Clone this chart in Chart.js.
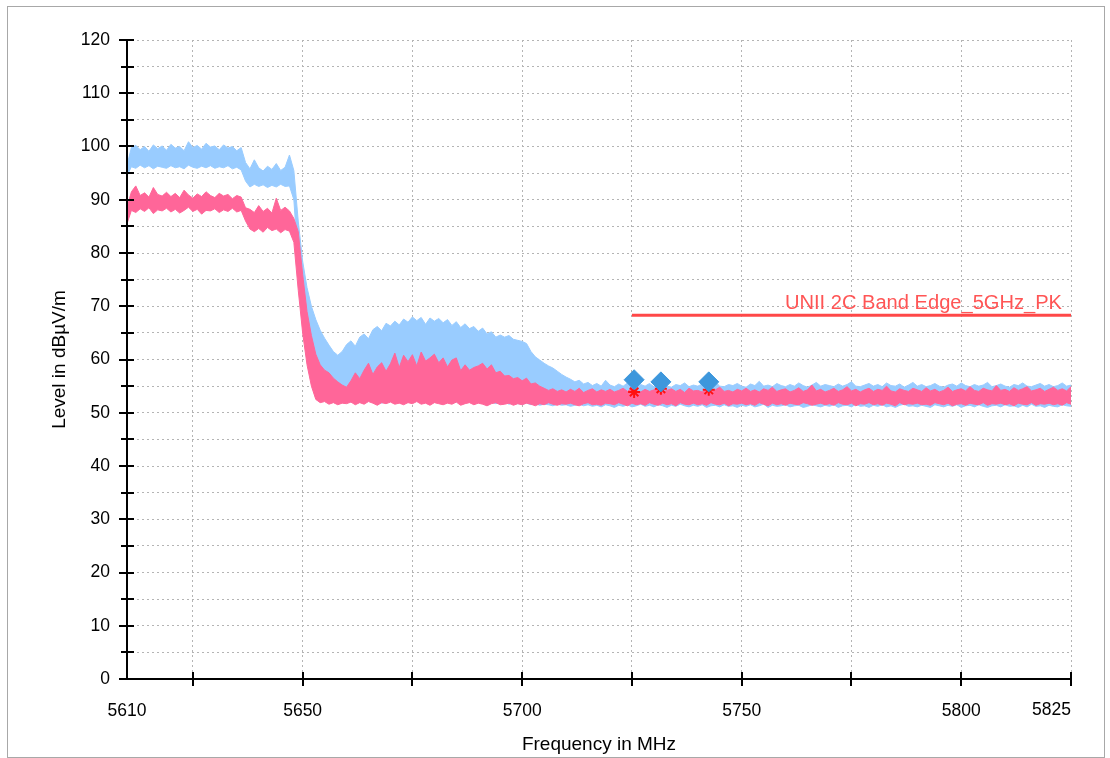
<!DOCTYPE html>
<html>
<head>
<meta charset="utf-8">
<script src="https://cdn.jsdelivr.net/npm/chart.js@4.4.1/dist/chart.umd.min.js"></script>
<style>
  html, body { margin: 0; padding: 0; background: #fff; }
  #wrap { position: relative; width: 1110px; height: 758px; }
  #frame { position: absolute; left: 7px; top: 6px; width: 1096px; height: 750px; border: 1px solid #a8a8a8; pointer-events: none; }
</style>
</head>
<body>
<div id="wrap">
  <canvas id="chart" width="1110" height="758"></canvas>
  <div id="frame"></div>
</div>
<script>
// ---------- DATA ----------
const freq = [
  5610, 5611, 5612, 5613, 5614, 5615, 5616, 5617, 5618, 5619,
  5620, 5621, 5622, 5623, 5624, 5625, 5626, 5627, 5628, 5629,
  5630, 5631, 5632, 5633, 5634, 5635, 5636, 5637, 5638, 5639,
  5640, 5641, 5642, 5643, 5644, 5645, 5646, 5647, 5648, 5649,
  5650, 5651, 5652, 5653, 5654, 5655, 5656, 5657, 5658, 5659,
  5660, 5661, 5662, 5663, 5664, 5665, 5666, 5667, 5668, 5669,
  5670, 5671, 5672, 5673, 5674, 5675, 5676, 5677, 5678, 5679,
  5680, 5681, 5682, 5683, 5684, 5685, 5686, 5687, 5688, 5689,
  5690, 5691, 5692, 5693, 5694, 5695, 5696, 5697, 5698, 5699,
  5700, 5701, 5702, 5703, 5704, 5705, 5706, 5707, 5708, 5709,
  5710, 5711, 5712, 5713, 5714, 5715, 5716, 5717, 5718, 5719,
  5720, 5721, 5722, 5723, 5724, 5725, 5726, 5727, 5728, 5729,
  5730, 5731, 5732, 5733, 5734, 5735, 5736, 5737, 5738, 5739,
  5740, 5741, 5742, 5743, 5744, 5745, 5746, 5747, 5748, 5749,
  5750, 5751, 5752, 5753, 5754, 5755, 5756, 5757, 5758, 5759,
  5760, 5761, 5762, 5763, 5764, 5765, 5766, 5767, 5768, 5769,
  5770, 5771, 5772, 5773, 5774, 5775, 5776, 5777, 5778, 5779,
  5780, 5781, 5782, 5783, 5784, 5785, 5786, 5787, 5788, 5789,
  5790, 5791, 5792, 5793, 5794, 5795, 5796, 5797, 5798, 5799,
  5800, 5801, 5802, 5803, 5804, 5805, 5806, 5807, 5808, 5809,
  5810, 5811, 5812, 5813, 5814, 5815, 5816, 5817, 5818, 5819,
  5820, 5821, 5822, 5823, 5824, 5825
];

// peak trace (light blue): upper / lower envelope per MHz
const blueHi = [
  96.5, 99.8, 100.2, 99.4, 100.0, 99.1, 100.3, 99.6, 100.1, 99.3,
  100.4, 99.7, 100.0, 99.2, 100.9, 99.8, 100.2, 99.5, 100.6, 99.9,
  100.1, 99.4, 100.3, 99.7, 100.0, 99.2, 99.8, 97.0, 95.8, 97.5,
  96.0, 95.4, 96.3, 95.7, 96.8, 95.5, 96.1, 98.4, 95.5, 86.0,
  78.5, 73.5, 70.0, 67.5, 65.5, 64.0, 62.7, 61.5, 60.8, 61.5,
  62.8, 63.5, 62.5, 64.2, 64.8, 63.9, 65.6, 66.2, 65.4, 66.8,
  66.3, 67.2, 66.5, 67.6, 67.0, 68.0, 67.3, 67.9, 66.6, 67.8,
  67.2, 67.7, 66.9, 67.5, 66.4, 67.1, 66.0, 66.7, 65.8, 66.2,
  65.3, 65.9, 64.8, 65.2, 64.2, 64.6, 64.2, 64.5, 63.8, 63.6,
  63.4, 63.0, 61.5, 60.5, 59.9, 59.3, 58.8, 58.4, 57.8, 57.2,
  56.7, 56.3, 55.8, 56.1, 55.4, 55.7, 55.1, 55.5, 55.0, 56.1,
  55.2, 54.9, 55.4, 55.0, 55.6, 55.1, 54.8, 55.3, 55.0, 55.5,
  54.9, 55.2, 55.7, 55.0, 54.8, 55.3, 55.1, 55.6, 54.9, 55.2,
  55.0, 55.4, 54.8, 55.2, 55.8, 55.0, 54.9, 55.3, 55.1, 55.5,
  55.0, 54.8, 55.4, 55.1, 55.9, 55.0, 55.2, 54.9, 55.5, 55.1,
  54.9, 55.3, 55.0, 55.6, 55.1, 54.8, 55.2, 55.7, 55.0, 55.3,
  55.1, 54.9, 55.4, 55.0, 55.3, 55.8, 55.0, 54.9, 55.2, 55.5,
  55.0, 55.3, 54.9, 55.6, 55.1, 55.0, 55.4, 54.8, 55.2, 55.7,
  55.0, 55.3, 54.9, 55.1, 55.5, 55.0, 54.8, 55.2, 55.4, 55.0,
  55.6, 55.1, 54.9, 55.3, 55.0, 55.2, 55.7, 54.9, 55.1, 55.4,
  55.0, 54.8, 55.3, 55.1, 55.6, 55.0, 54.9, 55.2, 55.5, 55.0,
  55.3, 54.9, 55.1, 55.6, 55.0, 55.2
];
const blueLo = [
  94.5, 96.2, 95.9, 96.5, 96.0, 96.4, 95.8, 96.3, 96.1, 95.9,
  96.4, 96.0, 96.2, 95.8, 96.5, 96.1, 95.9, 96.3, 96.0, 96.4,
  95.9, 96.2, 96.0, 96.4, 95.8, 96.1, 95.6, 93.5, 92.4, 92.9,
  92.5, 92.8, 92.3, 92.7, 92.4, 92.9, 92.5, 92.6, 90.0, 78.0,
  70.0, 64.0, 59.0, 56.0, 54.0, 53.0, 52.4, 52.1, 52.3, 52.0,
  52.2, 52.0, 52.3, 51.9, 52.1, 52.4, 52.0, 52.2, 51.8, 52.1,
  52.3, 52.0, 52.2, 51.9, 52.1, 52.0, 52.3, 51.8, 52.1, 52.2,
  52.0, 51.9, 52.2, 52.1, 51.8, 52.0, 52.3, 51.9, 52.1, 52.0,
  51.9, 52.1, 51.8, 52.0, 51.7, 51.9, 52.0, 51.6, 51.8, 51.7,
  51.6, 51.8, 51.5, 51.7, 51.4, 51.6, 51.5, 51.3, 51.6, 51.4,
  51.5, 51.2, 51.4, 51.6, 51.3, 51.5, 51.2, 51.4, 51.1, 51.5,
  51.3, 51.0, 51.4, 51.2, 51.5, 51.1, 51.3, 51.6, 51.2, 51.4,
  51.1, 51.5, 51.3, 51.0, 51.4, 51.2, 51.6, 51.3, 51.1, 51.4,
  51.2, 51.5, 51.0, 51.3, 51.4, 51.1, 51.5, 51.2, 51.3, 51.0,
  51.4, 51.2, 51.5, 51.1, 51.3, 51.6, 51.0, 51.4, 51.2, 51.3,
  51.5, 51.1, 51.3, 51.4, 51.0, 51.2, 51.5, 51.3, 51.1, 51.4,
  51.2, 51.5, 51.0, 51.3, 51.4, 51.1, 51.6, 51.2, 51.3, 51.0,
  51.4, 51.2, 51.5, 51.1, 51.3, 51.0, 51.4, 51.6, 51.2, 51.3,
  51.1, 51.4, 51.2, 51.0, 51.5, 51.3, 51.1, 51.4, 51.2, 51.5,
  51.0, 51.3, 51.4, 51.1, 51.5, 51.2, 51.0, 51.3, 51.4, 51.1,
  51.5, 51.2, 51.3, 51.0, 51.4, 51.1, 51.6, 51.2, 51.3, 51.0,
  51.4, 51.2, 51.1, 51.5, 51.3, 51.2
];

// average trace (pink): upper / lower envelope per MHz
const pinkHi = [
  88.5, 91.5, 92.6, 90.8, 91.3, 90.5, 92.3, 91.0, 90.7, 91.4,
  90.6, 91.2, 90.4, 91.8, 90.9, 90.3, 91.1, 90.6, 91.5, 90.8,
  90.4, 91.2, 90.7, 91.0, 90.2, 90.8, 90.5, 88.5, 88.2, 87.6,
  88.9, 87.8, 88.4, 87.5, 90.3, 88.0, 88.6, 87.9, 86.5, 84.0,
  76.0, 69.0, 64.5, 61.0, 59.0, 58.0, 57.5, 56.5, 55.8, 55.2,
  54.8, 56.0, 57.5, 56.4, 58.0, 59.3, 57.2, 58.6, 59.4, 57.8,
  59.2, 61.2, 58.5, 60.8, 59.6, 60.9, 58.8, 61.4, 59.7, 60.3,
  61.0, 59.4, 60.3, 58.6, 59.9, 60.3, 57.9, 59.0, 58.0, 58.5,
  58.8, 59.3, 58.2, 59.0, 57.5, 57.8, 56.9, 57.0, 56.4, 56.6,
  56.0, 56.5, 55.4, 55.6, 55.0, 54.6, 54.2, 54.5, 54.0, 54.3,
  53.9, 54.4, 54.0, 54.6, 53.8, 54.2, 54.5, 53.9, 54.3, 54.0,
  54.4, 53.9, 54.2, 54.6, 54.0, 54.8, 54.1, 53.9, 54.4, 54.0,
  54.3, 54.7, 53.9, 54.2, 54.5, 54.0, 54.4, 53.8, 54.6, 54.1,
  54.2, 53.9, 54.5, 54.1, 54.3, 54.8, 54.0, 54.2, 53.9, 54.4,
  54.1, 54.6, 54.0, 54.3, 53.9, 54.5, 54.2, 54.8, 54.0, 54.3,
  54.5, 53.9, 54.2, 54.7, 54.0, 54.3, 55.2, 54.1, 54.4, 53.9,
  54.2, 54.6, 54.0, 54.3, 54.9, 54.1, 54.4, 53.9, 54.3, 54.6,
  54.0, 54.4, 54.2, 55.0, 54.1, 53.9, 54.5, 54.2, 54.0, 54.6,
  54.3, 54.0, 54.7, 54.1, 54.4, 53.9, 54.2, 54.8, 54.0, 54.3,
  54.5, 54.1, 54.9, 54.2, 54.0, 54.6, 54.3, 54.1, 55.1, 54.2,
  54.4, 54.0, 54.7, 54.2, 54.5, 54.9, 54.1, 54.3, 54.6, 54.0,
  54.4, 54.8, 54.2, 54.5, 54.1, 54.9
];
const pinkLo = [
  85.5, 88.0, 87.6, 88.3, 87.8, 88.5, 87.4, 88.1, 87.9, 88.4,
  87.7, 88.2, 87.5, 88.0, 88.6, 87.8, 88.2, 87.3, 88.0, 87.9,
  88.3, 87.6, 88.1, 87.8, 88.4, 87.7, 88.0, 86.0, 84.5, 84.0,
  84.6, 83.9, 84.8, 84.2, 84.5, 83.8, 84.4, 84.1, 82.0, 73.0,
  65.0, 59.0, 55.0, 52.5, 51.9, 52.1, 51.6, 51.9, 51.5, 51.8,
  51.7, 52.0, 51.5, 51.9, 51.6, 52.1, 51.8, 51.4, 51.9, 51.7,
  52.0, 51.6, 51.8, 51.5, 51.9, 51.7, 52.1, 51.6, 51.8, 51.4,
  51.9, 51.7, 51.5, 51.8, 51.6, 52.0, 51.4, 51.7, 51.9, 51.5,
  51.8, 51.6, 51.3, 51.7, 51.9, 51.5, 51.6, 51.8, 51.4, 51.7,
  51.5, 51.8, 51.6, 51.3, 51.7, 51.5, 51.9, 51.6, 51.4, 51.7,
  51.6, 51.8, 51.5, 51.3, 51.7, 51.9, 51.5, 51.6, 51.4, 51.8,
  51.7, 51.5, 51.9, 51.6, 51.3, 51.8, 51.5, 51.7, 51.4, 51.9,
  51.6, 51.4, 51.8, 51.5, 51.7, 51.3, 51.9, 51.6, 51.5, 51.8,
  51.5, 51.7, 51.4, 51.9, 51.6, 51.5, 51.8, 51.3, 51.7, 51.6,
  51.8, 51.5, 51.7, 51.4, 51.9, 51.6, 51.3, 51.8, 51.5, 51.7,
  51.4, 51.8, 51.6, 51.5, 51.9, 51.7, 51.4, 51.6, 51.8, 51.5,
  51.7, 51.4, 51.9, 51.6, 51.5, 51.8, 51.3, 51.7, 51.6, 51.9,
  51.5, 51.7, 51.4, 51.8, 51.6, 51.3, 51.9, 51.5, 51.7, 51.6,
  51.8, 51.5, 51.6, 51.4, 51.9, 51.7, 51.5, 51.8, 51.3, 51.6,
  51.7, 51.4, 51.8, 51.6, 51.5, 51.9, 51.4, 51.7, 51.6, 51.8,
  51.5, 51.7, 51.3, 51.8, 51.6, 51.5, 51.9, 51.4, 51.7, 51.6,
  51.8, 51.5, 51.7, 51.4, 51.9, 51.6
];

// limit line
const limitName = 'UNII 2C Band Edge_5GHz_PK';
const limitFreq = [5725, 5825];
const limitLevel = [68.3, 68.3];

// final measurement markers
const markerFreq = [5725.5, 5731.6, 5742.5];
const peakMarker = [56.2, 55.8, 55.8];
const avgMarker = [53.9, 54.5, 54.3];

// axis ticks
const xGridTicks = [5610, 5625, 5650, 5675, 5700, 5725, 5750, 5775, 5800, 5825];
const xLabelTicks = [5610, 5650, 5700, 5750, 5800];
const xEndLabel = 5825;

// ---------- HELPERS ----------
const FONT = "'Liberation Sans', Arial, sans-serif";
const pts = (xs, ys) => xs.map((x, i) => ({ x: x, y: ys[i] }));

// ---------- PLUGINS ----------
const axesPlugin = {
  id: 'axesPlugin',
  afterDraw(chart) {
    const { ctx, chartArea: a, scales: { x, y } } = chart;
    ctx.save();
    ctx.strokeStyle = '#000';
    ctx.lineWidth = 2;
    ctx.beginPath();
    ctx.moveTo(a.left, a.top);
    ctx.lineTo(a.left, a.bottom);
    ctx.lineTo(a.right, a.bottom);
    ctx.stroke();

    y.ticks.forEach(t => {
      const py = Math.round(y.getPixelForValue(t.value));
      const major = t.value % 10 === 0;
      ctx.beginPath();
      ctx.moveTo(a.left - (major ? 8 : 6), py);
      ctx.lineTo(a.left + 7, py);
      ctx.stroke();
    });
    x.ticks.forEach(t => {
      if (t.value === 5610) return;
      const px = Math.round(x.getPixelForValue(t.value));
      ctx.beginPath();
      ctx.moveTo(px, a.bottom - 7);
      ctx.lineTo(px, a.bottom + 7);
      ctx.stroke();
    });

    // last x label sits flush with the axis end
    ctx.fillStyle = '#000';
    ctx.font = '17.5px ' + FONT;
    ctx.textAlign = 'right';
    ctx.textBaseline = 'top';
    ctx.fillText(String(xEndLabel), x.getPixelForValue(xEndLabel), a.bottom + 22);

    // limit name above the limit line
    const lx = x.getPixelForValue(limitFreq[1]) - 9;
    const ly = y.getPixelForValue(limitLevel[1]) - 6;
    ctx.font = '20px ' + FONT;
    ctx.textAlign = 'left';
    ctx.textBaseline = 'alphabetic';
    const w = ctx.measureText(limitName).width;
    const s = 277 / w;
    ctx.translate(lx - 277, ly);
    ctx.scale(s, 1);
    ctx.fillStyle = '#ff5555';
    ctx.fillText(limitName, 0, 0);
    ctx.restore();
  }
};

// ---------- CHART ----------
const ctx = document.getElementById('chart').getContext('2d');
new Chart(ctx, {
  type: 'line',
  data: {
    datasets: [
      { label: 'Peak marker', data: pts(markerFreq, peakMarker), showLine: false,
        pointStyle: 'rectRot', pointRadius: 10, pointBackgroundColor: '#3d97dc',
        pointBorderColor: '#3d97dc', pointBorderWidth: 1 },
      { label: 'Avg marker', data: pts(markerFreq, avgMarker), showLine: false,
        pointStyle: 'star', pointRadius: 6, pointBorderColor: '#ff1010', pointBorderWidth: 2 },
      { label: limitName, data: pts(limitFreq, limitLevel), borderColor: '#ff4848',
        borderWidth: 3, pointRadius: 0, fill: false },
      { label: 'Avg hi', data: pts(freq, pinkHi), borderColor: '#ff6699', backgroundColor: '#ff6699',
        borderWidth: 1, pointRadius: 0, fill: '+1' },
      { label: 'Avg lo', data: pts(freq, pinkLo), borderColor: '#ff6699',
        borderWidth: 1, pointRadius: 0, fill: false },
      { label: 'Peak hi', data: pts(freq, blueHi), borderColor: '#99ccff', backgroundColor: '#99ccff',
        borderWidth: 1, pointRadius: 0, fill: '+1' },
      { label: 'Peak lo', data: pts(freq, blueLo), borderColor: '#99ccff',
        borderWidth: 1, pointRadius: 0, fill: false }
    ]
  },
  options: {
    responsive: false,
    animation: false,
    layout: { padding: { left: 0, top: 40, right: 39, bottom: 0 } },
    plugins: { legend: { display: false }, tooltip: { enabled: false } },
    scales: {
      x: {
        type: 'linear', min: 5610, max: 5825,
        afterBuildTicks: s => { s.ticks = xGridTicks.map(v => ({ value: v })); },
        afterFit: s => { s.height = 79; },
        ticks: {
          autoSkip: false, maxRotation: 0, padding: 22, color: '#000',
          font: { family: FONT, size: 17.5 },
          callback: v => xLabelTicks.includes(v) ? String(v) : ''
        },
        grid: { color: '#b4b4b4', lineWidth: 1, drawTicks: false },
        border: { display: false, dash: [2, 3] },
        title: { display: true, text: 'Frequency in MHz', color: '#000',
          font: { family: FONT, size: 19 }, padding: { top: 0, bottom: 2 } }
      },
      y: {
        min: 0, max: 120,
        afterFit: s => { s.width = 127; },
        ticks: {
          stepSize: 5, padding: 17, color: '#000',
          font: { family: FONT, size: 17.5 },
          callback: v => v % 10 === 0 ? String(v) : ''
        },
        grid: { color: '#b4b4b4', lineWidth: 1, drawTicks: false },
        border: { display: false, dash: [2, 3] },
        title: { display: true, text: 'Level in dBµV/m', color: '#000',
          font: { family: FONT, size: 19 }, padding: { top: 48, bottom: 0 } }
      }
    }
  },
  plugins: [axesPlugin]
});
</script>
</body>
</html>
